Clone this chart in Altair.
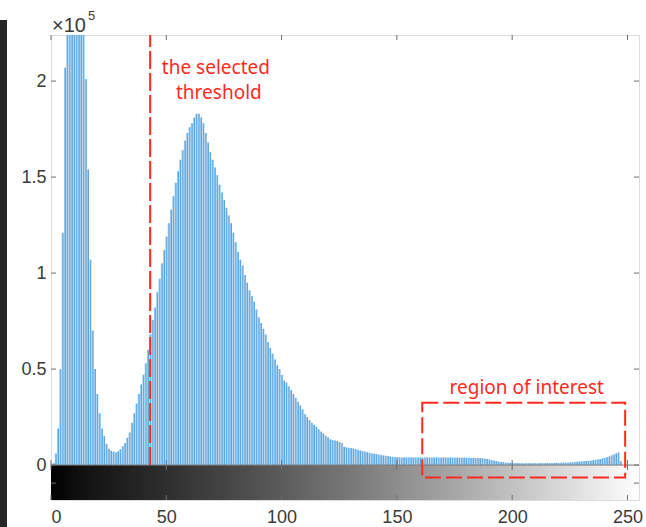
import altair as alt
import pandas as pd

# Histogram of gray levels (counts in units of 10^5)
GRAY_LEVELS = list(range(256))
COUNTS_E5 = [
    0, 0.01, 0.06, 0.19, 0.50, 1.21, 2.07, 2.60, 3.10, 3.40,
    3.50, 3.40, 3.10, 2.80, 2.40, 2.01, 1.54, 1.07, 0.70, 0.50,
    0.37, 0.27, 0.19, 0.15, 0.11, 0.085, 0.075, 0.070, 0.066, 0.072,
    0.082, 0.098, 0.115, 0.142, 0.170, 0.220, 0.270, 0.320, 0.370, 0.420,
    0.47, 0.53, 0.60, 0.68, 0.755, 0.82, 0.90, 0.97, 1.05, 1.12,
    1.19, 1.26, 1.33, 1.40, 1.47, 1.53, 1.59, 1.64, 1.69, 1.73,
    1.76, 1.78, 1.81, 1.83, 1.83, 1.81, 1.78, 1.73, 1.68, 1.63,
    1.59, 1.55, 1.51, 1.46, 1.42, 1.38, 1.34, 1.30, 1.26, 1.21,
    1.16, 1.11, 1.07, 1.04, 0.99, 0.95, 0.91, 0.88, 0.85, 0.81,
    0.77, 0.74, 0.71, 0.68, 0.64, 0.61, 0.58, 0.55, 0.52, 0.50,
    0.47, 0.44, 0.43, 0.41, 0.39, 0.37, 0.35, 0.33, 0.31, 0.29,
    0.265, 0.25, 0.234, 0.22, 0.21, 0.20, 0.186, 0.174, 0.165, 0.153,
    0.144, 0.134, 0.130, 0.128, 0.125, 0.120, 0.115, 0.095, 0.092, 0.090,
    0.088, 0.086, 0.083, 0.079, 0.076, 0.073, 0.070, 0.067, 0.064, 0.061,
    0.059, 0.057, 0.055, 0.052, 0.050, 0.049, 0.047, 0.044, 0.043, 0.042,
    0.041, 0.040, 0.039, 0.040, 0.039, 0.040, 0.040, 0.039, 0.039, 0.040,
    0.039, 0.039, 0.040, 0.040, 0.039, 0.039, 0.039, 0.040, 0.039, 0.039,
    0.039, 0.040, 0.039, 0.039, 0.038, 0.039, 0.039, 0.038, 0.038, 0.039,
    0.038, 0.038, 0.037, 0.038, 0.037, 0.037, 0.036, 0.036, 0.034, 0.032,
    0.029, 0.026, 0.023, 0.021, 0.018, 0.016, 0.015, 0.013, 0.012, 0.011,
    0.011, 0.010, 0.010, 0.009, 0.010, 0.009, 0.009, 0.010, 0.009, 0.010,
    0.010, 0.009, 0.010, 0.010, 0.010, 0.011, 0.010, 0.011, 0.011, 0.012,
    0.011, 0.012, 0.012, 0.012, 0.013, 0.014, 0.015, 0.016, 0.017, 0.018,
    0.019, 0.020, 0.021, 0.022, 0.023, 0.025, 0.027, 0.029, 0.031, 0.034,
    0.037, 0.041, 0.045, 0.050, 0.055, 0.061, 0.066, 0.020, 0, 0,
    0, 0, 0, 0, 0, 0,
]

THRESHOLD = 43
ROI_X = [161, 249]
ROI_Y = [-0.065, 0.325]
X_TICKS = [0, 50, 100, 150, 200, 250]
Y_TICKS = [0, 0.5, 1, 1.5, 2]

Y_TOP = 2.24
Y_BAR = -0.182   # bottom of the grayscale bar
W, H = 588, 465

RED = "#ff2a1f"
TXT = "#3a3a3a"
TICK = "#6e6e6e"
FONT = "Liberation Sans"
ANN_FONT = "Noto Sans"

xs = alt.Scale(domain=[0, 255], nice=False, zero=False)
ys = alt.Scale(domain=[Y_BAR, Y_TOP], nice=False, zero=False)

hist_df = pd.DataFrame({"level": GRAY_LEVELS, "count": COUNTS_E5, "base": 0.0})
grad_df = pd.DataFrame({"level": GRAY_LEVELS})
xt_df = pd.DataFrame({"v": X_TICKS})
yt_df = pd.DataFrame({"v": Y_TICKS})
one = pd.DataFrame({"k": [0]})

# grayscale bar under the histogram (cells overlap slightly to avoid seams)
gradient = alt.Chart(grad_df).mark_rect().transform_calculate(
    level_end="min(datum.level + 1.6, 255)"
).encode(
    x=alt.X("level:Q", scale=xs,
            axis=alt.Axis(values=X_TICKS, ticks=False, domain=False, grid=False,
                          labelFontSize=18, labelFont=FONT, labelColor=TXT,
                          labelPadding=8, title=None)),
    x2="level_end:Q",
    y=alt.datum(0, scale=ys),
    y2=alt.datum(Y_BAR),
    color=alt.Color("level:Q", scale=alt.Scale(domain=[0, 255], range=["#000000", "#ffffff"]),
                    legend=None),
)

# stems: light body with a darker edge line
hist = alt.Chart(hist_df).mark_rule(color="#96c8ee", strokeWidth=1.7, clip=True).encode(
    x=alt.X("level:Q", scale=xs),
    y=alt.Y("count:Q", scale=ys,
            axis=alt.Axis(values=Y_TICKS, format="~g", ticks=False, domain=False, grid=False,
                          labelFontSize=18, labelFont=FONT, labelColor=TXT,
                          labelPadding=5, title=None)),
    y2="base:Q",
)
hist_edge = alt.Chart(hist_df).mark_rule(color="#4496d8", strokeWidth=0.8, clip=True,
                                         xOffset=0.6).encode(
    x=alt.X("level:Q", scale=xs),
    y=alt.Y("count:Q", scale=ys),
    y2="base:Q",
)

zero_line = alt.Chart(one).mark_rule(color="#7a7a7a", strokeWidth=1).encode(
    y=alt.datum(0), x=alt.value(0), x2=alt.value(W)
)

# inward tick marks around the axes box
left_ticks = alt.Chart(yt_df).mark_rule(color=TICK).encode(
    y=alt.Y("v:Q", scale=ys), x=alt.value(0), x2=alt.value(5))
right_ticks = alt.Chart(yt_df).mark_rule(color=TICK).encode(
    y=alt.Y("v:Q", scale=ys), x=alt.value(W - 5), x2=alt.value(W))
top_ticks = alt.Chart(xt_df).mark_rule(color=TICK).encode(
    x=alt.X("v:Q", scale=xs), y=alt.value(0), y2=alt.value(5))
zero_ticks = alt.Chart(xt_df).mark_rule(color=TICK).encode(
    x=alt.X("v:Q", scale=xs), y=alt.datum(0), y2=alt.datum(0.026))
bar_top_ticks = alt.Chart(xt_df).mark_rule(color=TICK).encode(
    x=alt.X("v:Q", scale=xs), y=alt.datum(0), y2=alt.datum(-0.026))
bar_bot_ticks = alt.Chart(xt_df).mark_rule(color=TICK).encode(
    x=alt.X("v:Q", scale=xs), y=alt.value(H), y2=alt.value(H - 5))
bar_side_l = alt.Chart(one).mark_rule(color=TICK).encode(
    y=alt.datum(-0.094), x=alt.value(0), x2=alt.value(5))
bar_side_r = alt.Chart(one).mark_rule(color=TICK).encode(
    y=alt.datum(-0.094), x=alt.value(W - 5), x2=alt.value(W))

# selected threshold
thr = alt.Chart(one).mark_rule(color=RED, strokeWidth=2, strokeDash=[18, 4]).encode(
    x=alt.datum(THRESHOLD), y=alt.datum(0), y2=alt.datum(Y_TOP))

roi = alt.Chart(one).mark_rect(fillOpacity=0, stroke=RED, strokeWidth=2,
                               strokeDash=[16, 5]).encode(
    x=alt.datum(ROI_X[0]), x2=alt.datum(ROI_X[1]),
    y=alt.datum(ROI_Y[1]), y2=alt.datum(ROI_Y[0]))

ann_df = pd.DataFrame({
    "x": [71.5, 72.8, 206.3],
    "y": [2.07, 1.94, 0.40],
    "t": ["the selected", "threshold", "region of interest"],
})
ann = alt.Chart(ann_df).mark_text(color=RED, fontSize=19, font=ANN_FONT).encode(
    x=alt.X("x:Q", scale=xs), y=alt.Y("y:Q", scale=ys), text="t:N")

exp_base = alt.Chart(one).mark_text(text="×10", fontSize=20, font=FONT, color=TXT,
                                    align="left", baseline="alphabetic").encode(
    x=alt.value(1), y=alt.value(-3))
exp_pow = alt.Chart(one).mark_text(text="5", fontSize=13, font=FONT, color=TXT,
                                   align="left", baseline="alphabetic").encode(
    x=alt.value(37), y=alt.value(-15))

edge = alt.Chart(one).mark_rect(color="#262626").encode(
    x=alt.value(-51), x2=alt.value(-44), y=alt.value(-15), y2=alt.value(H + 27))

chart = alt.layer(
    edge, gradient, hist, hist_edge, zero_line,
    left_ticks, right_ticks, top_ticks, zero_ticks,
    bar_top_ticks, bar_bot_ticks, bar_side_l, bar_side_r,
    thr, roi, ann, exp_base, exp_pow,
).properties(
    width=W, height=H,
    autosize=alt.AutoSizeParams(type="none"),
    padding={"left": 51, "top": 35, "right": 7, "bottom": 27},
).configure_view(stroke="#8a8a8a", strokeWidth=1).configure(background="white")

chart.save("out.html", embed_options={"renderer": "svg", "actions": False})
